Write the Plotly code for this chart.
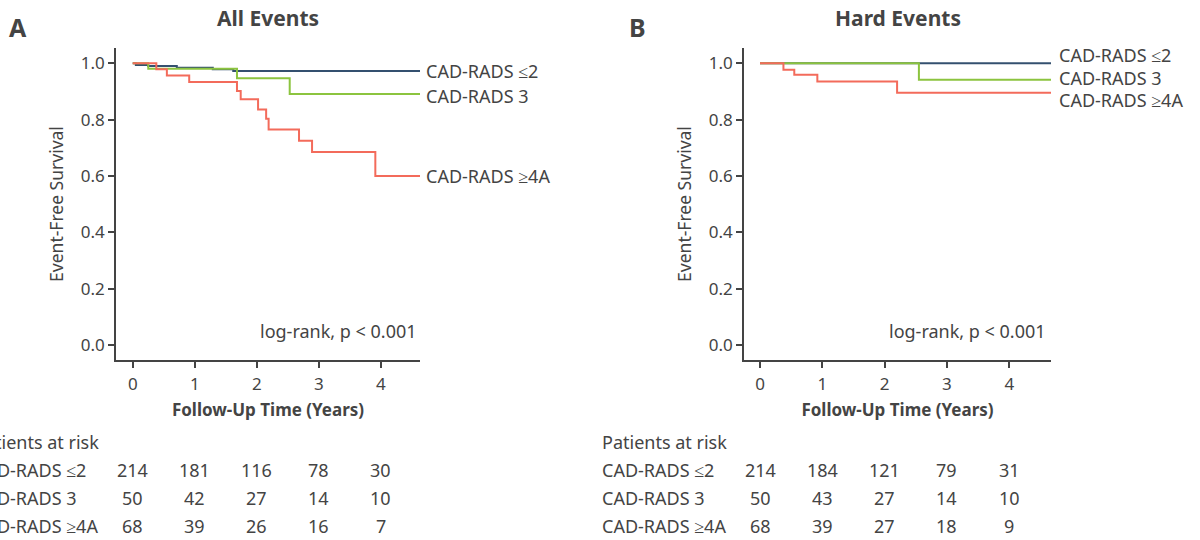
import plotly.graph_objects as go

# ---------------- data ----------------
groups = ["CAD-RADS ≤2", "CAD-RADS 3", "CAD-RADS ≥4A"]
colors = ["#34506f", "#8cc43f", "#f36b5b"]

# Panel A: All Events
a_t_le2 = [0, 0.05, 0.25, 0.71, 1.29, 1.62, 4.63]
a_s_le2 = [1.0, 0.994, 0.990, 0.984, 0.979, 0.972, 0.972]
a_t_3 = [0, 0.25, 1.68, 2.53, 4.63]
a_s_3 = [1.0, 0.980, 0.947, 0.891, 0.891]
a_t_4a = [0, 0.38, 0.55, 0.91, 1.68, 1.74, 2.02, 2.15, 2.19, 2.68, 2.89, 3.91, 4.63]
a_s_4a = [1.0, 0.979, 0.956, 0.933, 0.901, 0.872, 0.836, 0.803, 0.765, 0.725, 0.685, 0.600, 0.600]

# Panel B: Hard Events
b_t_le2 = [0, 4.67]
b_s_le2 = [1.0, 1.0]
b_t_3 = [0, 2.55, 4.67]
b_s_3 = [1.0, 0.941, 0.941]
b_t_4a = [0, 0.376, 0.55, 0.92, 2.2, 4.67]
b_s_4a = [1.0, 0.977, 0.959, 0.935, 0.895, 0.895]

risk_times = [0, 1, 2, 3, 4]
a_risk_le2 = [214, 181, 116, 78, 30]
a_risk_3 = [50, 42, 27, 14, 10]
a_risk_4a = [68, 39, 26, 16, 7]
b_risk_le2 = [214, 184, 121, 79, 31]
b_risk_3 = [50, 43, 27, 14, 10]
b_risk_4a = [68, 39, 27, 18, 9]

y_ticks = [0.0, 0.2, 0.4, 0.6, 0.8, 1.0]
x_ticks = [0, 1, 2, 3, 4]

# ---------------- figure ----------------
FONT = "Noto Sans"
TXT = "#444444"
W, H = 1200, 540
FS = 18

fig = go.Figure()

panelA = [(a_t_le2, a_s_le2), (a_t_3, a_s_3), (a_t_4a, a_s_4a)]
panelB = [(b_t_le2, b_s_le2), (b_t_3, b_s_3), (b_t_4a, b_s_4a)]

for (t, s), c, g in zip(panelA, colors, groups):
    fig.add_trace(go.Scatter(x=t, y=s, mode="lines", line=dict(color=c, width=2, shape="hv"),
                             name=g, xaxis="x", yaxis="y", showlegend=False))
for (t, s), c, g in zip(panelB, colors, groups):
    fig.add_trace(go.Scatter(x=t, y=s, mode="lines", line=dict(color=c, width=2, shape="hv"),
                             name=g, xaxis="x2", yaxis="y2", showlegend=False))

axis_common = dict(showline=True, linecolor=TXT, linewidth=1.5, ticks="outside", ticklen=6,
                   tickwidth=1.5, tickcolor=TXT, showgrid=False, zeroline=False,
                   tickfont=dict(family=FONT, size=17, color=TXT))

def px_x(p):
    return p / W

def px_y(p):
    return 1 - p / H

xt = dict(text="<b>Follow-Up Time (Years)</b>", font=dict(family=FONT, size=17, color=TXT), standoff=10)
yt = dict(text="Event-Free Survival", font=dict(family=FONT, size=17.5, color=TXT), standoff=13)

fig.update_layout(
    width=W, height=H,
    margin=dict(l=0, r=0, t=0, b=0, autoexpand=False),
    paper_bgcolor="white", plot_bgcolor="white",
    font=dict(family=FONT, color=TXT),
    xaxis=dict(domain=[px_x(116), px_x(420)], range=[-0.27, 4.63], tickvals=x_ticks,
               anchor="y", title=xt, ticklabelstandoff=2, **axis_common),
    yaxis=dict(domain=[px_y(360), px_y(48)], range=[-0.053, 1.054], tickvals=y_ticks, tickformat=".1f",
               anchor="x", title=yt, **axis_common),
    xaxis2=dict(domain=[px_x(744), px_x(1051)], range=[-0.257, 4.67], tickvals=x_ticks,
                anchor="y2", title=xt, ticklabelstandoff=2, **axis_common),
    yaxis2=dict(domain=[px_y(360), px_y(48)], range=[-0.053, 1.054], tickvals=y_ticks, tickformat=".1f",
                anchor="x2", title=yt, **axis_common),
)

ann = []
# panel letters & titles
ann.append(dict(text="<b>A</b>", x=px_x(18), y=px_y(27), xref="paper", yref="paper", showarrow=False,
                font=dict(family=FONT, size=25, color=TXT), xanchor="center", yanchor="middle"))
ann.append(dict(text="<b>B</b>", x=px_x(637), y=px_y(27), xref="paper", yref="paper", showarrow=False,
                font=dict(family=FONT, size=25, color=TXT), xanchor="center", yanchor="middle"))
ann.append(dict(text="<b>All Events</b>", x=px_x(268), y=px_y(18), xref="paper", yref="paper", showarrow=False,
                font=dict(family=FONT, size=21, color=TXT), xanchor="center", yanchor="middle"))
ann.append(dict(text="<b>Hard Events</b>", x=px_x(897.5), y=px_y(18), xref="paper", yref="paper", showarrow=False,
                font=dict(family=FONT, size=21, color=TXT), xanchor="center", yanchor="middle"))

# curve labels
a_label_y = [0.973, 0.884, 0.600]
b_label_y = [1.030, 0.948, 0.868]
for g, yy in zip(groups, a_label_y):
    ann.append(dict(text=g, x=4.63, y=yy, xref="x", yref="y", showarrow=False, xanchor="left", yanchor="middle",
                    xshift=4, font=dict(family=FONT, size=FS, color=TXT)))
for g, yy in zip(groups, b_label_y):
    ann.append(dict(text=g, x=4.67, y=yy, xref="x2", yref="y2", showarrow=False, xanchor="left", yanchor="middle",
                    xshift=6, font=dict(family=FONT, size=FS, color=TXT)))

# log-rank text
ann.append(dict(text="log-rank, p < 0.001", x=px_x(419), y=px_y(331), xref="paper", yref="paper", showarrow=False,
                xanchor="right", yanchor="middle", font=dict(family=FONT, size=FS, color=TXT)))
ann.append(dict(text="log-rank, p < 0.001", x=px_x(1048), y=px_y(331), xref="paper", yref="paper", showarrow=False,
                xanchor="right", yanchor="middle", font=dict(family=FONT, size=FS, color=TXT)))

# risk tables
row_y = [px_y(470), px_y(498), px_y(526)]
head_y = px_y(442)
tables = [("x", px_x(-28), [a_risk_le2, a_risk_3, a_risk_4a]),
          ("x2", px_x(600), [b_risk_le2, b_risk_3, b_risk_4a])]
for xr, xlab, rows in tables:
    ann.append(dict(text="Patients at risk", x=xlab, y=head_y, xref="paper", yref="paper", showarrow=False,
                    xanchor="left", yanchor="middle", font=dict(family=FONT, size=FS, color=TXT)))
    for g, vals, yy in zip(groups, rows, row_y):
        ann.append(dict(text=g, x=xlab, y=yy, xref="paper", yref="paper", showarrow=False,
                        xanchor="left", yanchor="middle", font=dict(family=FONT, size=FS, color=TXT)))
        for tt, v in zip(risk_times, vals):
            ann.append(dict(text=str(v), x=tt, y=yy, xref=xr, yref="paper", showarrow=False,
                            xanchor="center", yanchor="middle", font=dict(family=FONT, size=FS, color=TXT)))

fig.update_layout(annotations=ann)
fig.write_html("out.html", config={"displayModeBar": False},
               post_script="document.body.style.margin='0px';document.body.style.overflow='hidden';")
